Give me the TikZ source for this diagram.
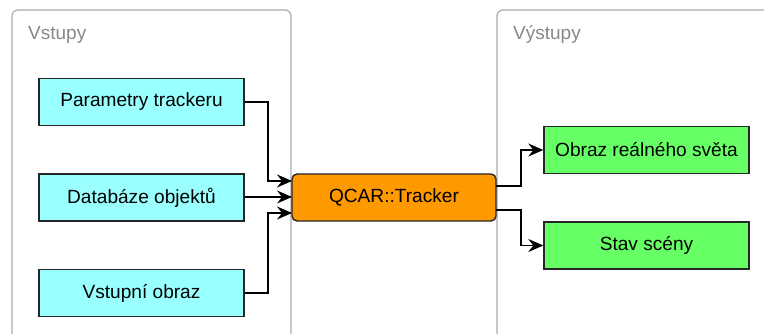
\documentclass[tikz,border=0pt]{standalone}
\usepackage{fontspec}
\setmainfont{Liberation Sans}
\usetikzlibrary{arrows.meta}
\definecolor{incol}{HTML}{99FFFF}
\definecolor{outcol}{HTML}{66FF66}
\definecolor{corecol}{HTML}{FF9900}
\definecolor{framecol}{HTML}{AAAAAA}
\definecolor{labcol}{HTML}{888888}
\begin{document}
\begin{tikzpicture}[x=1pt,y=-1pt,
  container/.style={draw=framecol, line width=1.2pt, rounded corners=6pt},
  grouplabel/.style={text=labcol, anchor=base west, font=\fontsize{19}{22}\selectfont, inner sep=0},
  inbox/.style={draw=black!85, line width=1.4pt, fill=incol, minimum width=205pt, minimum height=47pt, font=\fontsize{19.1}{22}\selectfont, inner sep=0},
  outbox/.style={draw=black!85, line width=1.4pt, fill=outcol, minimum width=205pt, minimum height=47pt, font=\fontsize{19.1}{22}\selectfont, inner sep=0},
  corebox/.style={draw=black!85, line width=1.4pt, fill=corecol, rounded corners=5pt, minimum width=204pt, minimum height=47pt, font=\fontsize{19.1}{22}\selectfont, inner sep=0},
  conn/.style={draw=black, line width=1.4pt, -{Stealth[length=15pt,width=13pt,inset=5pt]}},
  plainconn/.style={draw=black, line width=1.4pt},
  headfill/.style={fill=black}
]
\useasboundingbox (0,0) rectangle (764,334);
\begin{scope}
\clip (0,0) rectangle (764,334);
\draw[container] (12,10) rectangle (291,345);
\draw[container] (497,10) rectangle (790,345);
\end{scope}
\node[grouplabel] (lin) at (28,40) {Vstupy};
\node[grouplabel] (lout) at (513,40) {Výstupy};

\node[inbox] (p) at (141.5,102) {Parametry trackeru};
\node[inbox] (d) at (141.5,197.5) {Databáze objektů};
\node[inbox] (v) at (141.5,293) {Vstupní obraz};
\node[corebox] (q) at (394,197.5) {QCAR::Tracker};
\node[outbox] (o) at (646.5,150) {Obraz reálného světa};
\node[outbox] (s) at (646.5,245.5) {Stav scény};

\coordinate (qa) at (292,181);
\coordinate (qb) at (292,197);
\coordinate (qc) at (292,213);
\draw[conn] (p.east) -| (268,181) -- (qa);
\draw[plainconn, shorten >=8pt] (d.east |- qb) -- (qb);
\fill[headfill] (qb) -- ++(-15,-6.5) -- ++(5,6.5) -- ++(-5,6.5) -- cycle;
\draw[conn] (v.east) -| (268,213) -- (qc);
\coordinate (qo) at (496,186);
\coordinate (qs) at (496,210);
\draw[conn] (qo) -| (521,150) -- (o.west);
\draw[conn] (qs) -| (521,245.5) -- (s.west);
\end{tikzpicture}
\end{document}
